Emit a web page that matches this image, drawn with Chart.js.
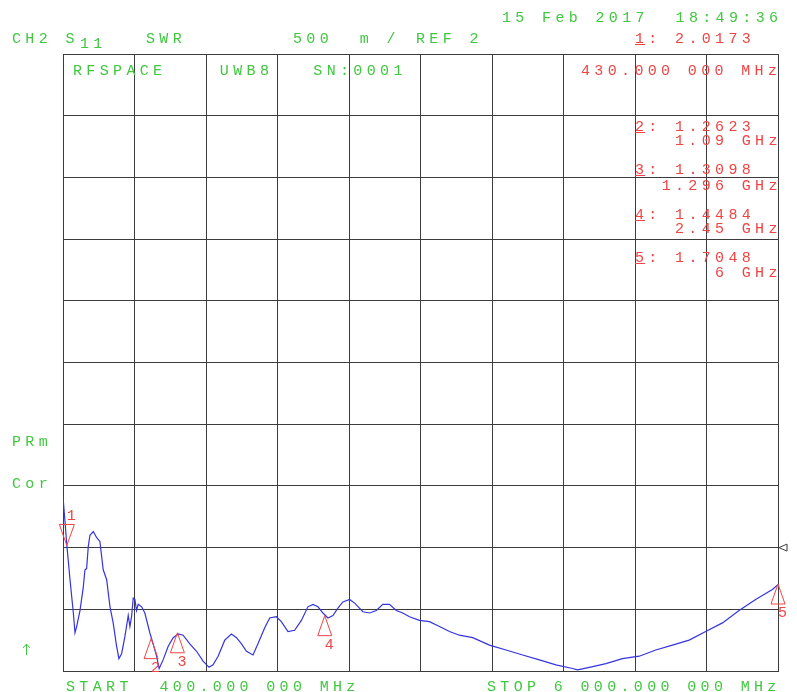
<!DOCTYPE html>
<html>
<head>
<meta charset="utf-8">
<script src="https://cdn.jsdelivr.net/npm/chart.js@4.4.1/dist/chart.umd.min.js"></script>
<style>
  body { margin: 0; background: #fff; }
  canvas { display: block; }
</style>
</head>
<body>
<canvas id="swr-chart" width="797" height="692"></canvas>
<script>
// S11 SWR trace, 400 MHz .. 6 GHz
var freqMHz = [400, 415, 430, 455, 481, 494, 507, 533, 559, 572, 585, 598, 611, 637, 664, 689, 715, 742, 768, 793,
    820, 838, 859, 885, 911, 924, 937, 950, 963, 976, 989, 1016, 1041, 1080, 1106, 1133, 1153, 1184, 1224, 1263,
    1302, 1341, 1393, 1446, 1497, 1544, 1575, 1615, 1667, 1719, 1759, 1798, 1837, 1888, 1927, 1980, 2019, 2071, 2110, 2162,
    2214, 2267, 2318, 2358, 2397, 2436, 2475, 2514, 2553, 2592, 2645, 2684, 2749, 2801, 2854, 2905, 2957, 3010, 3061, 3114,
    3192, 3270, 3349, 3427, 3505, 3609, 3740, 3870, 4000, 4131, 4261, 4391, 4430, 4522, 4652, 4782, 4913, 5043, 5173, 5304,
    5434, 5565, 5695, 5825, 5956, 6000];
var swr = [2.41, 2.22, 2.02, 1.74, 1.47, 1.31, 1.36, 1.49, 1.68, 1.82, 1.83, 2.01, 2.10, 2.13, 2.08, 2.05, 1.82, 1.74, 1.52, 1.39,
    1.20, 1.10, 1.14, 1.28, 1.45, 1.36, 1.44, 1.59, 1.58, 1.49, 1.54, 1.52, 1.47, 1.31, 1.22, 1.12, 1.02, 1.09, 1.20, 1.27,
    1.30, 1.29, 1.22, 1.16, 1.08, 1.03, 1.05, 1.12, 1.25, 1.30, 1.27, 1.22, 1.16, 1.13, 1.22, 1.35, 1.43, 1.44, 1.40, 1.32,
    1.33, 1.41, 1.52, 1.54, 1.52, 1.47, 1.43, 1.45, 1.51, 1.56, 1.58, 1.55, 1.48, 1.47, 1.49, 1.54, 1.54, 1.49, 1.47, 1.44,
    1.41, 1.40, 1.36, 1.32, 1.29, 1.27, 1.21, 1.17, 1.13, 1.09, 1.05, 1.02, 1.01, 1.03, 1.06, 1.10, 1.12, 1.17, 1.21, 1.25,
    1.32, 1.39, 1.49, 1.58, 1.66, 1.70];

// markers
var markerFreq = [430, 1090, 1296, 2450, 6000];
var markerSwr = [2.0173, 1.2623, 1.3098, 1.4484, 1.7048];
var markerFreqText = ['430.000 000 MHz', '1.09 GHz', '1.296 GHz', '2.45 GHz', '6 GHz'];

// axis setup: START/STOP, REF 2, 500 m/div
var startMHz = 400, stopMHz = 6000;
var refLevel = 2, perDiv = 0.5;
var swrMin = 1, swrMax = 6;

var GREEN = '#3fc83f', RED = '#f04444', TRACE = '#3434e0', GRID = '#3c3c3c';
var PITCH = 13.35;

function spaced(ctx, str, x, y) {
    for (var i = 0; i < str.length; i++) {
        ctx.fillText(str[i], x + i * PITCH, y);
    }
}

var screenText = {
    id: 'screenText',
    afterDraw: function (chart) {
        var ctx = chart.ctx;
        ctx.save();
        ctx.font = '15px "Liberation Mono", "DejaVu Sans Mono", monospace';
        ctx.textAlign = 'left';
        ctx.textBaseline = 'alphabetic';

        ctx.fillStyle = GREEN;
        ctx.strokeStyle = GREEN;
        ctx.lineWidth = 1;
        spaced(ctx, '15 Feb 2017  18:49:36', 502, 22);
        spaced(ctx, 'CH2 S', 12, 43);
        spaced(ctx, '11', 80, 48);
        spaced(ctx, 'SWR', 146, 43);
        spaced(ctx, '500  m /', 293, 43);
        spaced(ctx, 'REF ' + refLevel, 416, 43);
        spaced(ctx, 'RFSPACE    UWB8   SN:0001', 73, 75);
        spaced(ctx, 'PRm', 12, 446);
        spaced(ctx, 'Cor', 12, 488);
        spaced(ctx, 'START  400.000 000 MHz', 66, 691);
        spaced(ctx, 'STOP 6 000.000 000 MHz', 487, 691);

        // up arrow
        ctx.beginPath();
        ctx.moveTo(26.5, 655);
        ctx.lineTo(26.5, 644);
        ctx.moveTo(23, 648);
        ctx.lineTo(26.5, 644);
        ctx.lineTo(30, 648);
        ctx.stroke();

        // marker readouts
        ctx.fillStyle = RED;
        ctx.strokeStyle = RED;
        var rows = [43, 131, 174, 219, 262];
        var fx = [581, 675, 661.65, 675, 715];
        var fy = [75, 145, 190, 233, 277];
        for (var i = 0; i < markerSwr.length; i++) {
            spaced(ctx, (i + 1) + ': ' + markerSwr[i].toFixed(4), 635, rows[i]);
            spaced(ctx, markerFreqText[i], fx[i], fy[i]);
            ctx.beginPath();
            ctx.moveTo(635, rows[i] + 1.5);
            ctx.lineTo(645, rows[i] + 1.5);
            ctx.stroke();
        }
        ctx.restore();
    }
};

var markerDraw = {
    id: 'markerDraw',
    afterDatasetsDraw: function (chart) {
        var ctx = chart.ctx;
        var xs = chart.scales.x, ys = chart.scales.y;
        ctx.save();
        ctx.strokeStyle = RED;
        ctx.fillStyle = RED;
        ctx.lineWidth = 1;
        ctx.font = '15px "Liberation Mono", "DejaVu Sans Mono", monospace';
        ctx.textAlign = 'left';
        for (var i = 0; i < markerFreq.length; i++) {
            var px = xs.getPixelForValue(markerFreq[i]);
            var py = ys.getPixelForValue(markerSwr[i]);
            ctx.beginPath();
            if (i === 0) {
                ctx.moveTo(px, py);
                ctx.lineTo(px - 7.5, py - 21);
                ctx.lineTo(px + 7.5, py - 21);
                ctx.closePath();
                ctx.stroke();
                ctx.fillText(String(i + 1), px, py - 25);
            } else {
                ctx.moveTo(px, py);
                ctx.lineTo(px - 7, py + 20);
                ctx.lineTo(px + 7, py + 20);
                ctx.closePath();
                ctx.stroke();
                ctx.fillText(String(i + 1), px, py + 33);
            }
        }
        // reference level pointer on right edge
        var ry = ys.getPixelForValue(refLevel);
        var rx = chart.chartArea.right;
        ctx.strokeStyle = GRID;
        ctx.beginPath();
        ctx.moveTo(rx + 1, ry);
        ctx.lineTo(rx + 9, ry - 3.5);
        ctx.lineTo(rx + 9, ry + 3.5);
        ctx.closePath();
        ctx.stroke();
        ctx.restore();
    }
};

var ctx = document.getElementById('swr-chart').getContext('2d');

var chart = new Chart(ctx, {
    type: 'line',
    data: {
        datasets: [{
            label: 'SWR',
            data: freqMHz.map(function (f, i) { return { x: f, y: swr[i] }; }),
            borderColor: TRACE,
            borderWidth: 1.2,
            pointRadius: 0,
            tension: 0,
            fill: false
        }]
    },
    options: {
        responsive: false,
        maintainAspectRatio: false,
        devicePixelRatio: 1,
        animation: false,
        layout: {
            padding: { left: 63, top: 54, right: 19, bottom: 21 }
        },
        plugins: {
            legend: { display: false },
            tooltip: { enabled: false }
        },
        scales: {
            x: {
                type: 'linear',
                min: startMHz,
                max: stopMHz,
                ticks: { display: false, stepSize: (stopMHz - startMHz) / 10 },
                grid: { color: GRID, lineWidth: 1, drawTicks: false },
                border: { color: GRID, width: 1 }
            },
            y: {
                type: 'linear',
                min: swrMin,
                max: swrMax,
                ticks: { display: false, stepSize: perDiv },
                grid: { color: GRID, lineWidth: 1, drawTicks: false },
                border: { color: GRID, width: 1 }
            }
        }
    },
    plugins: [markerDraw, screenText]
});
</script>
</body>
</html>
